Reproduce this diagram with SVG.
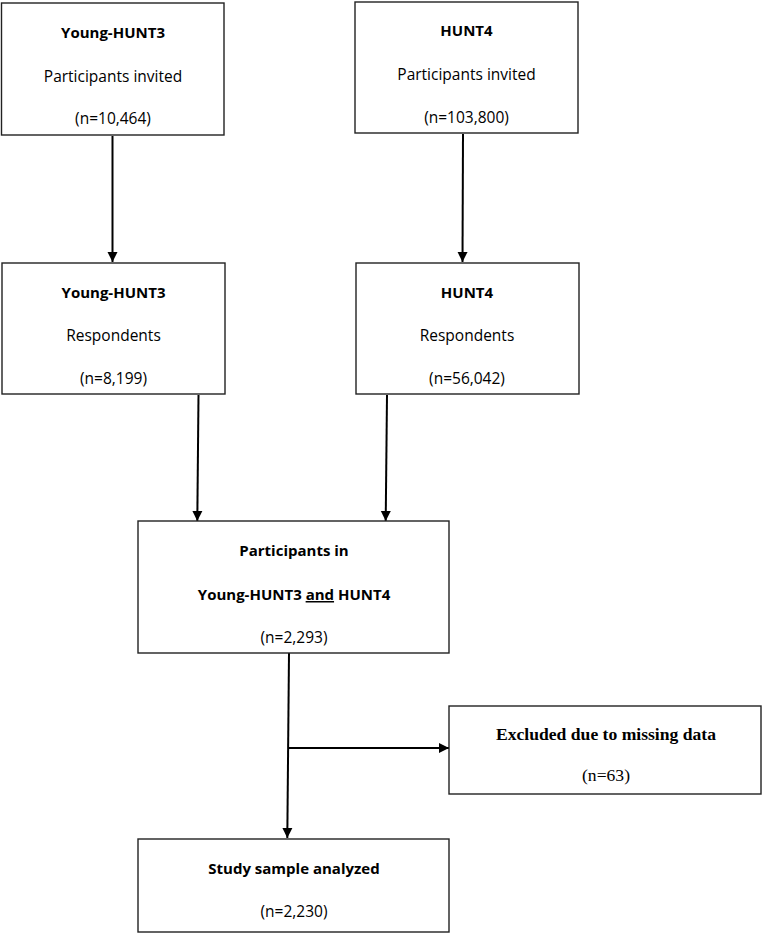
<svg xmlns="http://www.w3.org/2000/svg" width="762" height="934" viewBox="0 0 762 934">
<style>
.box{fill:#fff;stroke:#222;stroke-width:1.4}
.t{font-family:"Open Sans","Liberation Sans",sans-serif;font-size:15.5px;fill:#000;text-anchor:middle}
.b{font-weight:bold;font-size:15px}
.tm{font-family:"Liberation Serif","Times New Roman",serif;font-size:17.6px;fill:#000;text-anchor:middle}
.c{fill:none;stroke:#000;stroke-width:2}
</style>
<defs>
<marker id="ah" markerUnits="userSpaceOnUse" markerWidth="12" markerHeight="12" viewBox="0 0 12 12" refX="10" refY="6" orient="auto">
<path d="M0,1 L10,6 L0,11 Z" fill="#000"/>
</marker>
</defs>
<rect width="762" height="934" fill="#fff"/>
<g id="connectors">
<line class="c" x1="112.5" y1="136" x2="112.5" y2="262" marker-end="url(#ah)"/>
<line class="c" x1="463" y1="134" x2="462.5" y2="262" marker-end="url(#ah)"/>
<line class="c" x1="198.5" y1="395" x2="197.3" y2="521" marker-end="url(#ah)"/>
<line class="c" x1="387" y1="395" x2="385.7" y2="521" marker-end="url(#ah)"/>
<line class="c" x1="289" y1="653" x2="287.3" y2="838" marker-end="url(#ah)"/>
<line class="c" x1="288.2" y1="748" x2="449" y2="748" marker-end="url(#ah)"/>
</g>
<g id="node-yh3-invited">
<rect class="box" x="1.5" y="3" width="222.5" height="132"/>
<text class="t b" x="113" y="37.5">Young-HUNT3</text>
<text class="t" x="113" y="82">Participants invited</text>
<text class="t" x="113" y="123.5">(n=10,464)</text>
</g>
<g id="node-h4-invited">
<rect class="box" x="355" y="2" width="223" height="131"/>
<text class="t b" x="466.5" y="36">HUNT4</text>
<text class="t" x="466.5" y="80">Participants invited</text>
<text class="t" x="466.5" y="122.5">(n=103,800)</text>
</g>
<g id="node-yh3-resp">
<rect class="box" x="2" y="263" width="223" height="131"/>
<text class="t b" x="113.5" y="297.5">Young-HUNT3</text>
<text class="t" x="113.5" y="341">Respondents</text>
<text class="t" x="113.5" y="384">(n=8,199)</text>
</g>
<g id="node-h4-resp">
<rect class="box" x="356" y="263" width="223" height="131"/>
<text class="t b" x="467" y="297.5">HUNT4</text>
<text class="t" x="467" y="341">Respondents</text>
<text class="t" x="467" y="384">(n=56,042)</text>
</g>
<g id="node-both">
<rect class="box" x="138" y="521" width="311" height="132"/>
<text class="t b" x="294" y="555.5">Participants in</text>
<text class="t b" x="294" y="600">Young-HUNT3 <tspan text-decoration="underline">and</tspan> HUNT4</text>
<text class="t" x="294" y="643">(n=2,293)</text>
</g>
<g id="node-excluded">
<rect class="box" x="449" y="706" width="312" height="88"/>
<text class="tm" x="606" y="740" font-weight="bold">Excluded due to missing data</text>
<text class="tm" x="606" y="780.5">(n=63)</text>
</g>
<g id="node-sample">
<rect class="box" x="138" y="839" width="311" height="93"/>
<text class="t b" x="294" y="873.5">Study sample analyzed</text>
<text class="t" x="294" y="917">(n=2,230)</text>
</g>
</svg>
